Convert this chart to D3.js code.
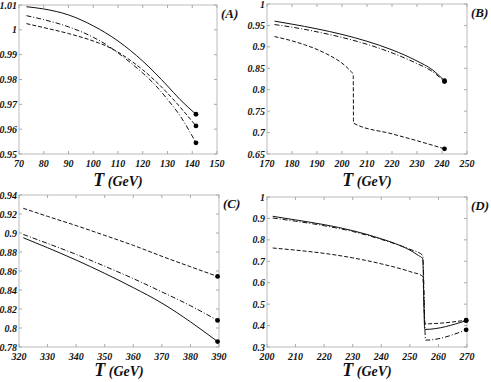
<!DOCTYPE html>
<html>
<head>
<meta charset="utf-8">
<script src="https://cdn.jsdelivr.net/npm/d3@7"></script>
<style>
  body { margin: 0; background: #fff; }
  text { font-family: "Liberation Serif", "DejaVu Serif", serif; font-weight: bold; font-style: italic; fill: #111; }
</style>
</head>
<body>
<div class="canvas"></div>
<script>
// panel A
const aSolid = [[73,1.0093],[80,1.0084],[90,1.0060],[100,1.0016],[110,0.9955],[115,0.9917],[120,0.9874],[125,0.9826],[130,0.9774],[135,0.9720],[141.5,0.9660]];
const aDashDot = [[73,1.0057],[80,1.0041],[90,1.0012],[100,0.9970],[105,0.9942],[110,0.9907],[115,0.9868],[120,0.9826],[125,0.9778],[130,0.9720],[135,0.9655],[141.5,0.9545]];
const aDashed = [[73,1.0025],[80,1.0009],[90,0.9985],[100,0.9955],[105,0.9936],[110,0.9910],[115,0.9877],[120,0.9839],[125,0.9795],[130,0.9745],[135,0.9690],[141.5,0.9613]];
const aXTicks = [70,80,90,100,110,120,130,140,150];
const aYTicks = [0.95,0.96,0.97,0.98,0.99,1,1.01];

// panel B
const bSolid = [[173,0.960],[180,0.953],[190,0.942],[200,0.929],[210,0.913],[220,0.893],[230,0.867],[236,0.847],[241,0.821]];
const bDashDot = [[173,0.952],[180,0.946],[190,0.935],[200,0.922],[210,0.906],[220,0.886],[230,0.861],[236,0.843],[241,0.819]];
const bDashed = [[173,0.924],[180,0.914],[185,0.905],[190,0.894],[195,0.880],[200,0.862],[203,0.846],[204.5,0.835],[204.6,0.722],[220,0.697],[230,0.681],[241,0.662]];
const bXTicks = [170,180,190,200,210,220,230,240,250];
const bYTicks = [0.65,0.7,0.75,0.8,0.85,0.9,0.95,1];

// panel C
const cSolid = [[321.5,0.895],[330,0.8845],[340,0.8715],[350,0.8575],[360,0.8425],[370,0.8262],[380,0.8065],[389.5,0.7857]];
const cDashDot = [[321.5,0.8985],[330,0.889],[340,0.8775],[350,0.865],[360,0.852],[370,0.838],[380,0.8235],[389.5,0.808]];
const cDashed = [[321.5,0.926],[330,0.9175],[340,0.9078],[350,0.8975],[360,0.887],[370,0.8755],[380,0.8645],[389.5,0.8543]];
const cXTicks = [320,330,340,350,360,370,380,390];
const cYTicks = [0.78,0.8,0.82,0.84,0.86,0.88,0.9,0.92,0.94];

// panel D
const dSolid = [[202,0.910],[210,0.893],[220,0.871],[230,0.843],[240,0.805],[245,0.782],[250,0.752],[253,0.727],[254.5,0.712],[255.2,0.382],[269.7,0.423]];
const dDashDot = [[202,0.902],[210,0.887],[220,0.866],[230,0.839],[240,0.802],[250,0.756],[254.5,0.728],[255.5,0.332],[269.7,0.380]];
const dDashed = [[202,0.762],[210,0.752],[220,0.737],[230,0.716],[240,0.688],[250,0.652],[254.5,0.630],[255.3,0.408],[269.7,0.425]];
const dXTicks = [200,210,220,230,240,250,260,270];
const dYTicks = [0.3,0.4,0.5,0.6,0.7,0.8,0.9,1];

const svg = d3.select('.canvas')
    .append('svg')
    .attr('width', 491)
    .attr('height', 382);

const styles = {
    solid: null,
    dashdot: '5,2,1,2',
    dashed: '4,2'
};

const fmt = d => String(+d.toFixed(3));

const drawPanel = (p) => {
    const x = d3.scaleLinear().domain(p.xDomain).range([p.left, p.right]);
    const y = d3.scaleLinear().domain(p.yDomain).range([p.bottom, p.top]);
    const g = svg.append('g');

    // frame
    g.append('rect')
        .attr('x', p.left).attr('y', p.top)
        .attr('width', p.right - p.left).attr('height', p.bottom - p.top)
        .attr('fill', 'none').attr('stroke', '#bbb').attr('stroke-width', 1);

    // inward ticks on all sides
    const tk = 3;
    g.selectAll('.xt').data(p.xTicks).enter().append('path')
        .attr('d', d => `M${x(d)},${p.bottom}v${-tk}M${x(d)},${p.top}v${tk}`)
        .attr('stroke', '#aaa');
    g.selectAll('.yt').data(p.yTicks).enter().append('path')
        .attr('d', d => `M${p.left},${y(d)}h${tk}M${p.right},${y(d)}h${-tk}`)
        .attr('stroke', '#aaa');

    // tick labels
    g.selectAll('.xl').data(p.xTicks).enter().append('text')
        .attr('x', d => x(d)).attr('y', p.bottom + 13)
        .attr('text-anchor', 'middle').attr('font-size', 10)
        .text(d => d);
    g.selectAll('.yl').data(p.yTicks).enter().append('text')
        .attr('x', p.left - 2).attr('y', d => y(d) + 3.5)
        .attr('text-anchor', 'end').attr('font-size', 10)
        .text(fmt);

    // axis title
    const title = g.append('text')
        .attr('x', (p.left + p.right) / 2).attr('y', p.bottom + p.titleGap)
        .attr('text-anchor', 'middle');
    title.append('tspan').attr('font-size', 18).text('T');
    title.append('tspan').attr('font-size', 14).text(' (GeV)');

    // panel label
    g.append('text')
        .attr('x', p.right + 4).attr('y', p.top + 13)
        .attr('font-size', 13)
        .text(p.label);

    const line = d3.line().curve(d3.curveMonotoneX).x(d => x(d[0])).y(d => y(d[1]));
    p.series.forEach(s => {
        g.append('path')
            .datum(s.data)
            .attr('d', line)
            .attr('fill', 'none')
            .attr('stroke', '#111')
            .attr('stroke-width', 1)
            .attr('stroke-dasharray', styles[s.style]);
        const last = s.data[s.data.length - 1];
        g.append('circle')
            .attr('cx', x(last[0])).attr('cy', y(last[1]))
            .attr('r', 2.4).attr('fill', '#000');
    });
};

drawPanel({ label: '(A)', left: 19, right: 217, top: 5, bottom: 154, titleGap: 32,
    xDomain: [70, 150], yDomain: [0.95, 1.01], xTicks: aXTicks, yTicks: aYTicks,
    series: [{ data: aSolid, style: 'solid' }, { data: aDashDot, style: 'dashdot' }, { data: aDashed, style: 'dashed' }] });

drawPanel({ label: '(B)', left: 267, right: 467, top: 4, bottom: 154, titleGap: 32,
    xDomain: [170, 250], yDomain: [0.65, 1], xTicks: bXTicks, yTicks: bYTicks,
    series: [{ data: bSolid, style: 'solid' }, { data: bDashDot, style: 'dashdot' }, { data: bDashed, style: 'dashed' }] });

drawPanel({ label: '(C)', left: 19, right: 219, top: 195, bottom: 347, titleGap: 29,
    xDomain: [320, 390], yDomain: [0.78, 0.94], xTicks: cXTicks, yTicks: cYTicks,
    series: [{ data: cSolid, style: 'solid' }, { data: cDashDot, style: 'dashdot' }, { data: cDashed, style: 'dashed' }] });

drawPanel({ label: '(D)', left: 267, right: 467, top: 197, bottom: 347, titleGap: 29,
    xDomain: [200, 270], yDomain: [0.3, 1], xTicks: dXTicks, yTicks: dYTicks,
    series: [{ data: dSolid, style: 'solid' }, { data: dDashDot, style: 'dashdot' }, { data: dDashed, style: 'dashed' }] });
</script>
</body>
</html>
